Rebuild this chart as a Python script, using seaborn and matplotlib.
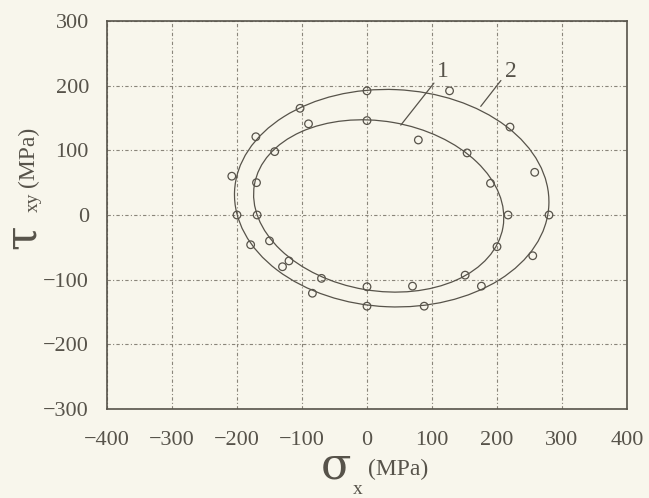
import numpy as np
import pandas as pd
import seaborn as sns
import matplotlib.pyplot as plt
from matplotlib.patches import Ellipse

# Measured points (MPa), read off the scanned figure
# curve 1 - inner ellipse
sx_1 = [-142, -170, -169, -150, -120, -70, 0, 70, 151, 200, 217, 190, 154, 79, 0, -90]
txy_1 = [98, 50, 0, -40, -71, -98, -111, -110, -93, -49, 0, 49, 96, 116, 146, 141]
# curve 2 - outer ellipse
sx_2 = [0, 127, 220, 258, 280, 255, 176, 88, 0, -84, -130, -179, -200, -208, -171, -103]
txy_2 = [192, 192, 136, 66, 0, -63, -110, -141, -141, -121, -80, -46, 0, 60, 121, 165]

# fitted ellipses: centre x, centre y, full width, full height, tilt (deg)
fit_1 = [18, 14, 388, 262, -9.8]
fit_2 = [38, 26, 484, 336, -2.5]

# curve labels: text position and leader line ends
lab_text = ['1', '2']
lab_pos = [(116, 222), (221, 222)]
lead_from = [(52, 139), (175, 168)]
lead_to = [(103, 204), (206, 208)]

x_ticks = [-400, -300, -200, -100, 0, 100, 200, 300, 400]
y_ticks = [-300, -200, -100, 0, 100, 200, 300]

ink = '#57534a'
paper = '#f8f6ec'

sns.set_style('white')
plt.rcParams['font.family'] = ['Liberation Serif', 'DejaVu Serif']

W, H = 649, 498
fig = plt.figure(figsize=(W / 100, H / 100), dpi=100, facecolor=paper)
ax = fig.add_axes([107 / W, 1 - 409 / H, 520 / W, 388 / H])
ax.set_facecolor(paper)

df = pd.concat([
    pd.DataFrame({'sx': sx_1, 'txy': txy_1, 'curve': '1'}),
    pd.DataFrame({'sx': sx_2, 'txy': txy_2, 'curve': '2'}),
])

for fit in [fit_1, fit_2]:
    ax.add_patch(Ellipse((fit[0], fit[1]), fit[2], fit[3], angle=fit[4],
                         fill=False, edgecolor=ink, lw=0.9, zorder=3))

sns.scatterplot(data=df, x='sx', y='txy', ax=ax, s=30, marker='o',
                facecolor='none', edgecolor=ink, linewidth=0.9, legend=False, zorder=4)

for t, p, a, b in zip(lab_text, lab_pos, lead_from, lead_to):
    ax.plot([a[0], b[0]], [a[1], b[1]], color=ink, lw=0.9, zorder=3)
    ax.text(p[0], p[1], t, fontsize=17, color=ink, ha='center', va='center')

ax.set_xlim(-400, 400)
ax.set_ylim(-300, 300)
ax.set_xticks(x_ticks)
ax.set_yticks(y_ticks)
ax.grid(True, color='#8a857a', lw=0.8, linestyle=(0, (3, 2, 1, 2)))
ax.set_axisbelow(True)
for sp in ax.spines.values():
    sp.set_color(ink)
    sp.set_linewidth(1.2)
ax.tick_params(direction='out', length=8, width=1.1, color=ink,
               labelcolor=ink, labelsize=16, pad=5)
ax.tick_params(axis='x', pad=8)
ax.set_xlabel('')
ax.set_ylabel('')

# axis titles: big greek letter, small subscript, unit
def px(x, y):
    return x / W, 1 - y / H

greek = dict(fontsize=32, color=ink, ha='center', va='center', family='DejaVu Serif')
fig.text(*px(336, 466), 'σ', **greek)
fig.text(*px(358, 489), 'x', fontsize=14, color=ink, ha='center', va='center')
fig.text(*px(398, 469), '(MPa)', fontsize=17, color=ink, ha='center', va='center')

fig.text(*px(22, 237), 'τ', rotation=90, **greek)
fig.text(*px(33, 202), 'xy', fontsize=14, color=ink, ha='center', va='center', rotation=90)
fig.text(*px(28, 157), '(MPa)', fontsize=17, color=ink, ha='center', va='center', rotation=90)

fig.savefig('out.png', dpi=100, facecolor=paper)
